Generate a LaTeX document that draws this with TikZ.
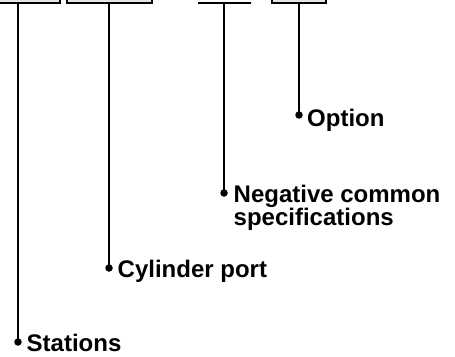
\documentclass[tikz,border=0pt]{standalone}
\usepackage{fontspec}
\setmainfont{Liberation Sans}
\usetikzlibrary{positioning}

\begin{document}
\begin{tikzpicture}[x=1pt, y=-1pt,
        part/.style={draw, line width=1.8pt, fill=gray!20, minimum height=20pt, inner sep=0pt},
        lead/.style={line width=2pt},
        pin/.style={circle, fill, inner sep=0pt, minimum size=7.5pt},
        partname/.style={font=\fontsize{24}{23}\selectfont\bfseries, anchor=base west, inner sep=0pt, align=left}
    ]
    \clip (0,0) rectangle (455,356);

    % Code blocks (cut at the top)
    \node[part, minimum width=65pt] (stations) at (27.5,-7) {};
    \node[part, minimum width=85pt] (port) at (109.5,-7) {};
    \node[part, fill=none, minimum width=53pt, minimum height=0pt] (spec) at (224.5,3) {};
    \node[part, minimum width=54pt] (option) at (299,-7) {};

    % Pins
    \node[pin] (stpin) at (18,342) {};
    \node[pin] (cppin) at (109,268) {};
    \node[pin] (ncpin) at (224,193) {};
    \node[pin] (oppin) at (299,115) {};

    % Leads
    \draw[lead] (stpin |- stations.south) -- (stpin.center);
    \draw[lead] (cppin |- port.south) -- (cppin.center);
    \draw[lead] (ncpin |- spec.south) -- (ncpin.center);
    \draw[lead] (oppin |- option.south) -- (oppin.center);

    % Names
    \node[partname] (stname) at ([xshift=8.5pt, yshift=-9pt]stpin.center) {Stations};
    \node[partname] (cpname) at ([xshift=8.5pt, yshift=-9.5pt]cppin.center) {Cylinder port};
    \node[partname] (ncname) at ([xshift=9.5pt, yshift=-32.5pt]ncpin.center) {Negative common\\specifications};
    \node[partname] (opname) at ([xshift=8pt, yshift=-11pt]oppin.center) {Option};

\end{tikzpicture}
\end{document}
